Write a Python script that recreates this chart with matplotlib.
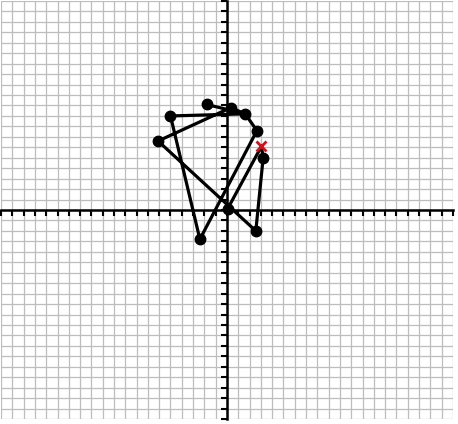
import numpy as np
import matplotlib
matplotlib.use("Agg")
import matplotlib.pyplot as plt

# path of the points, red cross marks one point
xs = [-1.8, 1.6, -5.0, -2.4, 2.65, 1.6, 0.35, -6.1, 2.55, 3.2, 3.05, 0.05]
ys = [10.1, 9.2, 9.0, -2.8, 7.6, 9.2, 9.8, 6.6, -2.0, 5.0, 6.1, 0.1]
cross_x = [3.05]
cross_y = [6.1]
dot_x = [-1.8, 1.6, -5.0, -2.4, 2.65, 0.35, -6.1, 2.55, 3.2, 0.05]
dot_y = [10.1, 9.2, 9.0, -2.8, 7.6, 9.8, 6.6, -2.0, 5.0, 0.1]

lim = 20

fig = plt.figure(figsize=(4.58, 4.24), dpi=100)
ax = fig.add_axes([1/458, 5/424, 452/458, 418/424])

ax.set_xlim(-lim, lim)
ax.set_ylim(-lim, lim)
ax.set_xticks(np.arange(-lim, lim + 1, 1))
ax.set_yticks(np.arange(-lim, lim + 1, 1))
ax.grid(True, color="#bdbdbd", linewidth=0.9)
ax.set_axisbelow(True)

ax.spines["left"].set_position("zero")
ax.spines["bottom"].set_position("zero")
ax.spines["left"].set_linewidth(1.8)
ax.spines["bottom"].set_linewidth(1.8)
ax.spines["top"].set_visible(False)
ax.spines["right"].set_visible(False)
ax.tick_params(length=4, width=1.5, direction="out",
               labelbottom=False, labelleft=False)

ax.plot(xs, ys, color="black", linewidth=2.3, zorder=3)
ax.plot(dot_x, dot_y, "o", color="black", markersize=7.5, zorder=4)
ax.plot(cross_x, cross_y, "x", color="#d0101a", markersize=7.5,
        markeredgewidth=2.0, zorder=5)

fig.savefig("out.png", dpi=100)
